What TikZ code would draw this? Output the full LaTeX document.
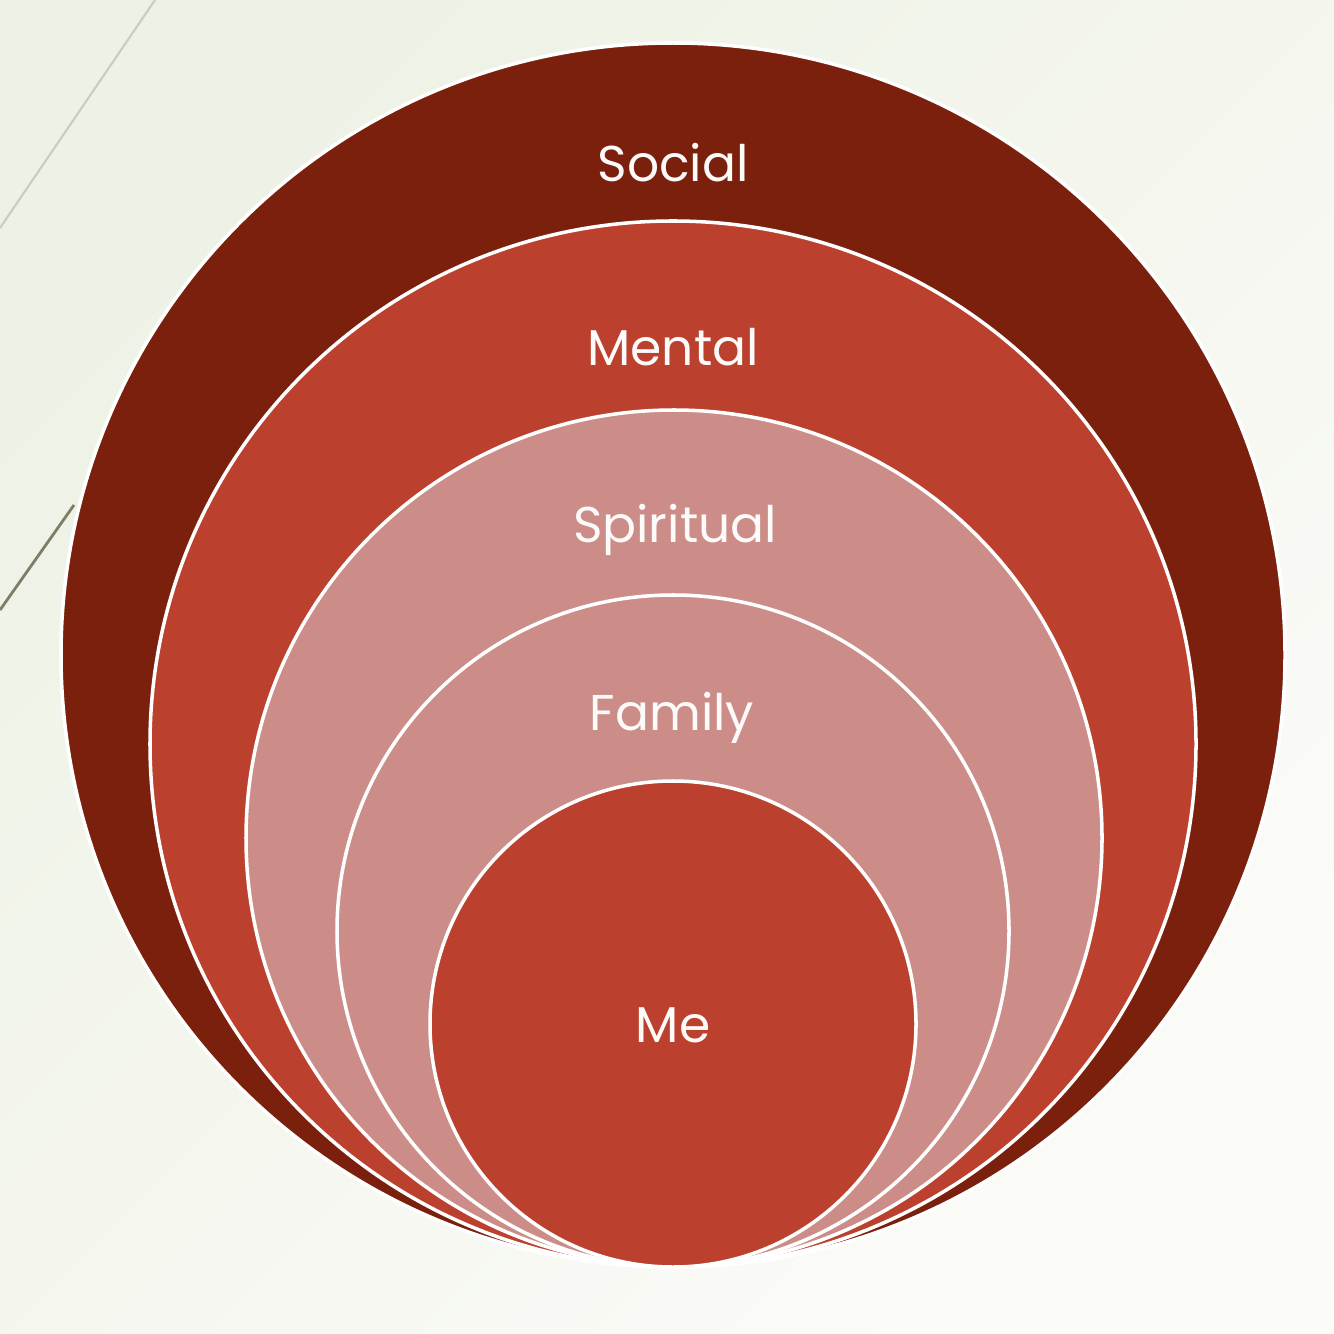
\documentclass[tikz,border=0pt]{standalone}
\usepackage{fontspec}
\setmainfont{Poppins}
\definecolor{bgA}{HTML}{EEF2E5}
\definecolor{bgB}{HTML}{FBFBF8}
\definecolor{socialc}{HTML}{7A200C}
\definecolor{redc}{HTML}{BB412E}
\definecolor{pinkc}{HTML}{CC8D88}
\definecolor{lineA}{HTML}{C9CCC2}
\definecolor{lineB}{HTML}{7E7E68}
\begin{document}
\begin{tikzpicture}[x=0.01cm,y=-0.01cm,
  ring/.style={draw=white,line width=1pt},
  lbl/.style={text=white!96!pinkc,font=\fontsize{14.3}{17}\selectfont}]
\shade[left color=bgA,right color=bgB,shading angle=45] (0,0) rectangle (1334,1334);
\useasboundingbox (0,0) rectangle (1334,1334);
\coordinate (l1a) at (155,0);
\coordinate (l1b) at (0,228);
\coordinate (l2a) at (74,505);
\coordinate (l2b) at (0,610);
\draw[lineA,line width=0.6pt] (l1a) -- (l1b);
\draw[lineB,line width=0.8pt] (l2a) -- (l2b);
\filldraw[ring,fill=socialc] (673,655) circle (612);
\filldraw[ring,fill=redc] (673,744) circle (523);
\filldraw[ring,fill=pinkc] (674,838) circle (428);
\filldraw[ring,fill=pinkc] (673,931) circle (336);
\filldraw[ring,fill=redc] (673,1024) circle (243);
\node[lbl] (social) at (673,163) {Social};
\node[lbl] (mental) at (673,347) {Mental};
\node[lbl] (spiritual) at (675,530) {Spiritual};
\node[lbl] (family) at (672,718) {Family};
\node[lbl] (me) at (673,1025) {Me};
\end{tikzpicture}
\end{document}
